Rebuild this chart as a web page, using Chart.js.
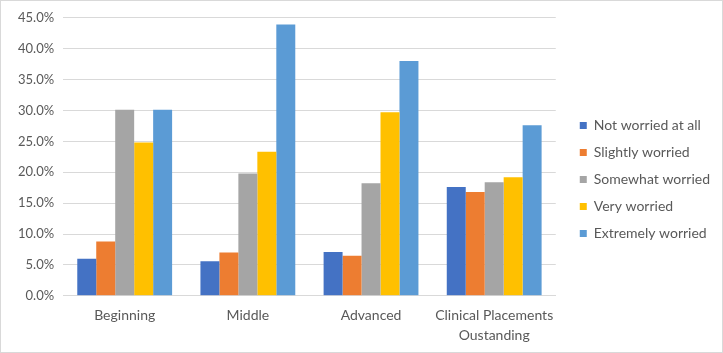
<!DOCTYPE html>
<html>
<head>
<meta charset="utf-8">
<script src="https://cdn.jsdelivr.net/npm/chart.js@4"></script>
<style>
  html, body { margin: 0; padding: 0; background: #fff; }
  #wrap { position: relative; width: 721px; height: 351px; border: 1px solid #d9d9d9; }
</style>
</head>
<body>
<div id="wrap"><canvas id="worryChart"></canvas></div>
<script>
  // Data (percent)
  const categories = ["Beginning", "Middle", "Advanced", ["Clinical Placements", "Oustanding"]];
  const notWorried = [6.0, 5.6, 7.1, 17.6];
  const slightlyWorried = [8.8, 7.0, 6.5, 16.8];
  const somewhatWorried = [30.1, 19.8, 18.2, 18.4];
  const veryWorried = [24.8, 23.3, 29.7, 19.2];
  const extremelyWorried = [30.1, 43.9, 38.0, 27.6];
  const yTicks = [0, 5, 10, 15, 20, 25, 30, 35, 40, 45];

  const textColor = "#595959";
  const font = { family: "Lato, 'Open Sans', sans-serif", size: 14 };

  // leave a gap between plot and legend, and push the legend items right
  const legendGap = {
    id: "legendGap",
    beforeInit(chart) {
      const lg = chart.legend;
      const origFit = lg.fit;
      const origDraw = lg.draw;
      lg.fit = function () {
        origFit.call(this);
        this.width += 25;
      };
      lg.draw = function () {
        this.left += 11; this.right += 11;
        origDraw.call(this);
        this.left -= 11; this.right -= 11;
      };
    }
  };

  // Building the chart
  const ctx = document.getElementById("worryChart").getContext("2d");
  new Chart(ctx, {
    type: "bar",
    data: {
      labels: categories,
      datasets: [
        { label: "Not worried at all", data: notWorried, backgroundColor: "#4472C4" },
        { label: "Slightly worried", data: slightlyWorried, backgroundColor: "#ED7D31" },
        { label: "Somewhat worried", data: somewhatWorried, backgroundColor: "#A5A5A5" },
        { label: "Very worried", data: veryWorried, backgroundColor: "#FFC000" },
        { label: "Extremely worried", data: extremelyWorried, backgroundColor: "#5B9BD5" }
      ]
    },
    options: {
      responsive: true,
      maintainAspectRatio: false,
      animation: false,
      datasets: { bar: { categoryPercentage: 0.77, barPercentage: 1.0 } },
      layout: { padding: { left: 8, right: -12, top: 11, bottom: 5 } },
      plugins: {
        tooltip: { enabled: false },
        legend: {
          position: "right",
          align: "center",
          labels: {
            color: textColor,
            font: font,
            boxWidth: 7,
            boxHeight: 7,
            padding: 13
          }
        }
      },
      scales: {
        x: {
          grid: { display: false },
          border: { color: "#d9d9d9" },
          ticks: {
            color: textColor,
            font: { ...font, lineHeight: 1.4 },
            maxRotation: 0,
            autoSkip: false,
            padding: 2
          }
        },
        y: {
          min: 0,
          max: 45,
          afterBuildTicks: axis => { axis.ticks = yTicks.map(v => ({ value: v })); },
          grid: { color: "#d9d9d9", drawTicks: false },
          border: { display: false },
          ticks: {
            color: textColor,
            font: { ...font, size: 13 },
            padding: 9,
            callback: v => v.toFixed(1) + "%"
          }
        }
      }
    },
    plugins: [legendGap]
  });
</script>
</body>
</html>
